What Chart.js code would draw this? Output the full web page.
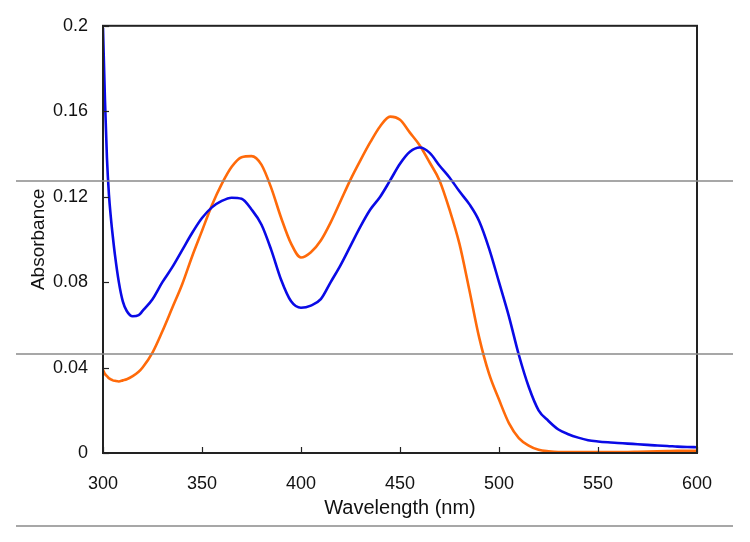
<!DOCTYPE html>
<html>
<head>
<meta charset="utf-8">
<script src="https://cdn.jsdelivr.net/npm/chart.js@4"></script>
<style>
  html, body { margin: 0; padding: 0; background: #ffffff; }
  #wrap { width: 750px; height: 542px; position: relative; }
</style>
</head>
<body>
<div id="wrap"><canvas id="spectrum"></canvas></div>
<script>
// Wavelengths (nm) sampled along both traces
const wavelengths = [300, 301, 302, 303, 304, 305, 306, 308, 310, 312, 315, 318, 320, 325, 330, 335, 340, 345, 350, 355, 360, 365, 370, 375, 380, 385, 390, 395, 400, 405, 410, 415, 420, 425, 430, 435, 440, 445, 450, 455, 460, 465, 470, 475, 480, 485, 490, 495, 500, 505, 510, 515, 520, 525, 530, 535, 540, 545, 550, 555, 560, 565, 570, 575, 580, 585, 590, 595, 600];

// Blue trace
const blueAbs = [0.199, 0.165, 0.138, 0.121, 0.110, 0.101, 0.093, 0.080, 0.071, 0.0665, 0.064, 0.0645, 0.0665, 0.072, 0.080, 0.087, 0.095, 0.103, 0.110, 0.115, 0.118, 0.1195, 0.119, 0.114, 0.107, 0.095, 0.081, 0.071, 0.068, 0.069, 0.072, 0.080, 0.088, 0.097, 0.106, 0.114, 0.120, 0.1276, 0.1354, 0.141, 0.143, 0.1405, 0.1345, 0.129, 0.1225, 0.1165, 0.1085, 0.0957, 0.080, 0.064, 0.046, 0.031, 0.020, 0.015, 0.011, 0.0088, 0.0072, 0.006, 0.0054, 0.005, 0.0047, 0.0044, 0.0041, 0.0038, 0.0035, 0.0033, 0.003, 0.0028, 0.0027];

// Orange trace
const orangeAbs = [0.039, 0.037, 0.036, 0.035, 0.0345, 0.034, 0.0338, 0.0335, 0.034, 0.0345, 0.036, 0.038, 0.040, 0.047, 0.057, 0.068, 0.079, 0.092, 0.104, 0.116, 0.126, 0.134, 0.1385, 0.139, 0.135, 0.124, 0.110, 0.098, 0.0915, 0.094, 0.0995, 0.108, 0.118, 0.128, 0.137, 0.1455, 0.153, 0.1575, 0.156, 0.150, 0.144, 0.136, 0.1275, 0.114, 0.098, 0.0764, 0.054, 0.037, 0.025, 0.014, 0.007, 0.0035, 0.0015, 0.0008, 0.0005, 0.0005, 0.0005, 0.0005, 0.0005, 0.0005, 0.0005, 0.0005, 0.0006, 0.0007, 0.0008, 0.0009, 0.001, 0.001, 0.001];

const xTicks = [300, 350, 400, 450, 500, 550, 600];
const yTicks = [0, 0.04, 0.08, 0.12, 0.16, 0.2];

const FONT = 'Liberation Sans, Arial, sans-serif';

function toPoints(ys) {
    return wavelengths.map((w, i) => ({ x: w, y: ys[i] }));
}

// frame, inward tick marks and the grey rules across the picture
const framePlugin = {
    id: 'frame',
    afterDatasetsDraw(chart) {
        const { ctx, chartArea: a, scales } = chart;
        ctx.save();
        ctx.strokeStyle = '#222222';
        ctx.lineWidth = 2;
        ctx.strokeRect(a.left, a.top, a.right - a.left, a.bottom - a.top);

        ctx.lineWidth = 1.2;
        yTicks.forEach(v => {
            const y = Math.round(scales.y.getPixelForValue(v)) + 0.5;
            ctx.beginPath();
            ctx.moveTo(a.left, y);
            ctx.lineTo(a.left + 6, y);
            ctx.stroke();
        });
        xTicks.forEach(v => {
            const x = Math.round(scales.x.getPixelForValue(v)) + 0.5;
            ctx.beginPath();
            ctx.moveTo(x, a.bottom);
            ctx.lineTo(x, a.bottom - 6);
            ctx.stroke();
        });

        ctx.strokeStyle = '#8a8a8a';
        ctx.lineWidth = 1.5;
        [181, 354, 526].forEach(y => {
            ctx.beginPath();
            ctx.moveTo(16, y);
            ctx.lineTo(733, y);
            ctx.stroke();
        });
        ctx.restore();
    }
};

new Chart(document.getElementById('spectrum'), {
    type: 'line',
    data: {
        datasets: [
            {
                label: 'blue',
                data: toPoints(blueAbs),
                borderColor: '#0a0ae6',
                borderWidth: 2.6,
                pointRadius: 0,
                cubicInterpolationMode: 'monotone',
                fill: false
            },
            {
                label: 'orange',
                data: toPoints(orangeAbs),
                borderColor: '#ff6a0a',
                borderWidth: 2.6,
                pointRadius: 0,
                cubicInterpolationMode: 'monotone',
                fill: false
            }
        ]
    },
    options: {
        responsive: true,
        maintainAspectRatio: false,
        animation: false,
        layout: { padding: { left: 0, top: 25, right: 53, bottom: 0 } },
        plugins: {
            legend: { display: false },
            tooltip: { enabled: false }
        },
        scales: {
            x: {
                type: 'linear',
                min: 300,
                max: 600,
                afterFit(scale) { scale.height = 89; },
                afterBuildTicks(scale) { scale.ticks = xTicks.map(v => ({ value: v })); },
                grid: { display: false, drawTicks: false },
                border: { display: false },
                ticks: {
                    padding: 20,
                    color: '#111111',
                    font: { family: FONT, size: 18 },
                    maxRotation: 0
                },
                title: {
                    display: true,
                    text: 'Wavelength (nm)',
                    color: '#111111',
                    font: { family: FONT, size: 20 },
                    padding: { top: 0, bottom: 22 }
                }
            },
            y: {
                min: 0,
                max: 0.2,
                afterFit(scale) { scale.width = 103; },
                afterBuildTicks(scale) { scale.ticks = yTicks.map(v => ({ value: v })); },
                grid: { display: false, drawTicks: false },
                border: { display: false },
                ticks: {
                    padding: 15,
                    color: '#111111',
                    font: { family: FONT, size: 18 },
                    callback: v => String(Math.round(v * 100) / 100)
                },
                title: {
                    display: true,
                    text: 'Absorbance',
                    color: '#111111',
                    font: { family: FONT, size: 19 },
                    padding: { top: 27, bottom: 0 }
                }
            }
        }
    },
    plugins: [framePlugin]
});
</script>
</body>
</html>
